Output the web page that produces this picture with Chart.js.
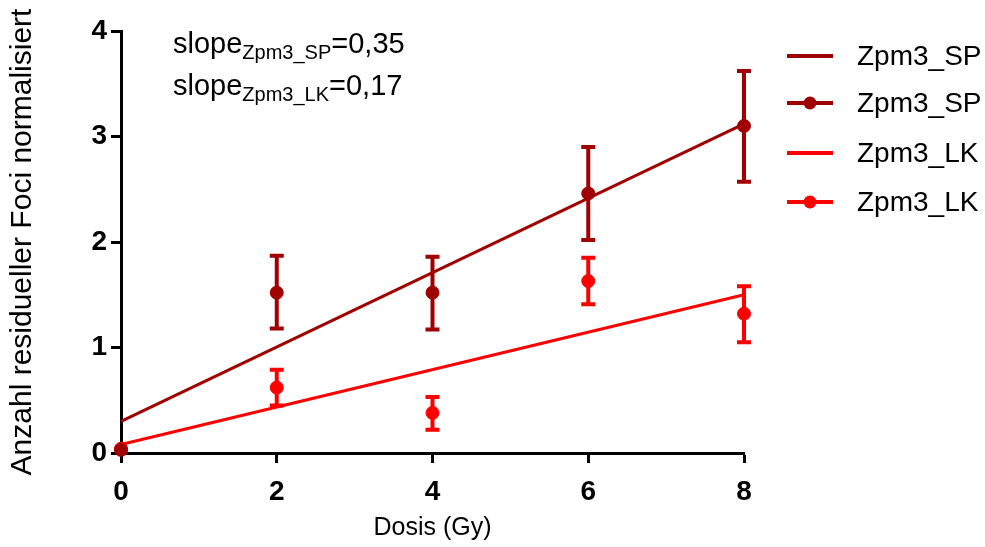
<!DOCTYPE html>
<html>
<head>
<meta charset="utf-8">
<script src="https://cdn.jsdelivr.net/npm/chart.js@4.4.0/dist/chart.umd.min.js"></script>
<style>
  html, body { margin: 0; padding: 0; background: #fff; }
  #wrap { width: 985px; height: 547px; }
</style>
</head>
<body>
<div id="wrap"><canvas id="chart"></canvas></div>
<script>
// values
var doses = [0, 2, 4, 6, 8];
var spMean = [0.03, 1.52, 1.52, 2.46, 3.10];
var spLow = [0.03, 1.18, 1.17, 2.02, 2.57];
var spHigh = [0.03, 1.87, 1.86, 2.90, 3.62];
var lkMean = [0.04, 0.62, 0.38, 1.63, 1.32];
var lkLow = [0.04, 0.45, 0.22, 1.41, 1.05];
var lkHigh = [0.04, 0.79, 0.53, 1.85, 1.58];
var fitX = [0, 8];
var spFit = [0.30, 3.12];
var lkFit = [0.08, 1.50];
var legendNames = ['Zpm3_SP', 'Zpm3_SP', 'Zpm3_LK', 'Zpm3_LK'];
var slopeNames = ['Zpm3_SP', 'Zpm3_LK'];
var slopeValues = ['0,35', '0,17'];

var DARK = '#A00000';
var RED = '#FF0000';
var FONT = "'Liberation Sans', Arial, sans-serif";

function pts(xs, ys) {
    return xs.map(function (x, i) { return { x: x, y: ys[i] }; });
}

// error bars drawn with the chart's own scales
var errorBars = {
    id: 'errorBars',
    beforeDatasetsDraw: function (chart) {
        var ctx = chart.ctx;
        var xs = chart.scales.x, ys = chart.scales.y;
        var sets = [[spLow, spHigh, DARK], [lkLow, lkHigh, RED]];
        ctx.save();
        ctx.lineWidth = 4;
        sets.forEach(function (s) {
            ctx.strokeStyle = s[2];
            doses.forEach(function (d, i) {
                if (s[1][i] - s[0][i] < 0.05) return;
                var px = xs.getPixelForValue(d);
                var lo = ys.getPixelForValue(s[0][i]);
                var hi = ys.getPixelForValue(s[1][i]);
                ctx.beginPath();
                ctx.moveTo(px, lo); ctx.lineTo(px, hi);
                ctx.moveTo(px - 7, lo); ctx.lineTo(px + 7, lo);
                ctx.moveTo(px - 7, hi); ctx.lineTo(px + 7, hi);
                ctx.stroke();
            });
        });
        ctx.restore();
    }
};

// legend on the right and the slope notes
var notes = {
    id: 'notes',
    afterDraw: function (chart) {
        var ctx = chart.ctx;
        ctx.save();
        var colors = [DARK, DARK, RED, RED];
        var rows = [56, 103, 153, 202];
        legendNames.forEach(function (name, i) {
            ctx.strokeStyle = colors[i];
            ctx.fillStyle = colors[i];
            ctx.lineWidth = 4;
            ctx.beginPath();
            ctx.moveTo(787, rows[i]); ctx.lineTo(833, rows[i]);
            ctx.stroke();
            if (i % 2 == 1) {
                ctx.beginPath();
                ctx.arc(810, rows[i], 6.5, 0, Math.PI * 2);
                ctx.fill();
            }
            ctx.fillStyle = '#000';
            ctx.font = '28px ' + FONT;
            ctx.textBaseline = 'middle';
            ctx.fillText(name, 857, rows[i] + 1);
        });

        var lines = [43, 85];
        ctx.textBaseline = 'alphabetic';
        slopeNames.forEach(function (name, i) {
            var x = 173, base = lines[i] + 10;
            ctx.font = '29px ' + FONT;
            ctx.fillText('slope', x, base);
            x += ctx.measureText('slope').width;
            ctx.font = '20px ' + FONT;
            ctx.fillText(name, x, base + 6);
            x += ctx.measureText(name).width;
            ctx.font = '29px ' + FONT;
            ctx.fillText('=' + slopeValues[i], x, base);
        });
        ctx.restore();
    }
};

var ctx = document.getElementById('chart').getContext('2d');

var chart = new Chart(ctx, {
    type: 'scatter',
    data: {
        datasets: [{
            type: 'line',
            label: legendNames[0],
            data: pts(fitX, spFit),
            borderColor: DARK,
            borderWidth: 3,
            pointRadius: 0,
            fill: false
        }, {
            label: legendNames[1],
            data: pts(doses, spMean),
            backgroundColor: DARK,
            borderColor: DARK,
            pointRadius: 6.5,
            pointHoverRadius: 6.5
        }, {
            type: 'line',
            label: legendNames[2],
            data: pts(fitX, lkFit),
            borderColor: RED,
            borderWidth: 3,
            pointRadius: 0,
            fill: false
        }, {
            label: legendNames[3],
            data: pts(doses, lkMean),
            backgroundColor: RED,
            borderColor: RED,
            pointRadius: 6.5,
            pointHoverRadius: 6.5
        }]
    },
    options: {
        responsive: true,
        maintainAspectRatio: false,
        animation: false,
        clip: false,
        layout: {
            padding: { top: 31, right: 241, left: 0, bottom: 0 }
        },
        plugins: {
            legend: { display: false },
            tooltip: { enabled: false }
        },
        scales: {
            x: {
                type: 'linear',
                min: 0,
                max: 8,
                afterFit: function (s) { s.height = 94; },
                border: { display: true, width: 3, color: '#000' },
                grid: { drawOnChartArea: false, tickLength: 10, tickWidth: 3, tickColor: '#000' },
                ticks: {
                    stepSize: 2,
                    color: '#000',
                    padding: 12,
                    font: { family: FONT, size: 28, weight: 'bold' }
                },
                title: {
                    display: true,
                    text: 'Dosis (Gy)',
                    color: '#000',
                    padding: { top: 0, bottom: 4 },
                    font: { family: FONT, size: 25 }
                }
            },
            y: {
                min: 0,
                max: 4,
                afterFit: function (s) { s.width = 121; },
                border: { display: true, width: 3, color: '#000' },
                grid: { drawOnChartArea: false, tickLength: 10, tickWidth: 3, tickColor: '#000' },
                ticks: {
                    stepSize: 1,
                    color: '#000',
                    padding: 4,
                    font: { family: FONT, size: 28, weight: 'bold' }
                },
                title: {
                    display: true,
                    text: 'Anzahl residueller Foci normalisiert',
                    color: '#000',
                    padding: { top: 5, bottom: 0 },
                    font: { family: FONT, size: 30 }
                }
            }
        }
    },
    plugins: [errorBars, notes]
});
</script>
</body>
</html>
